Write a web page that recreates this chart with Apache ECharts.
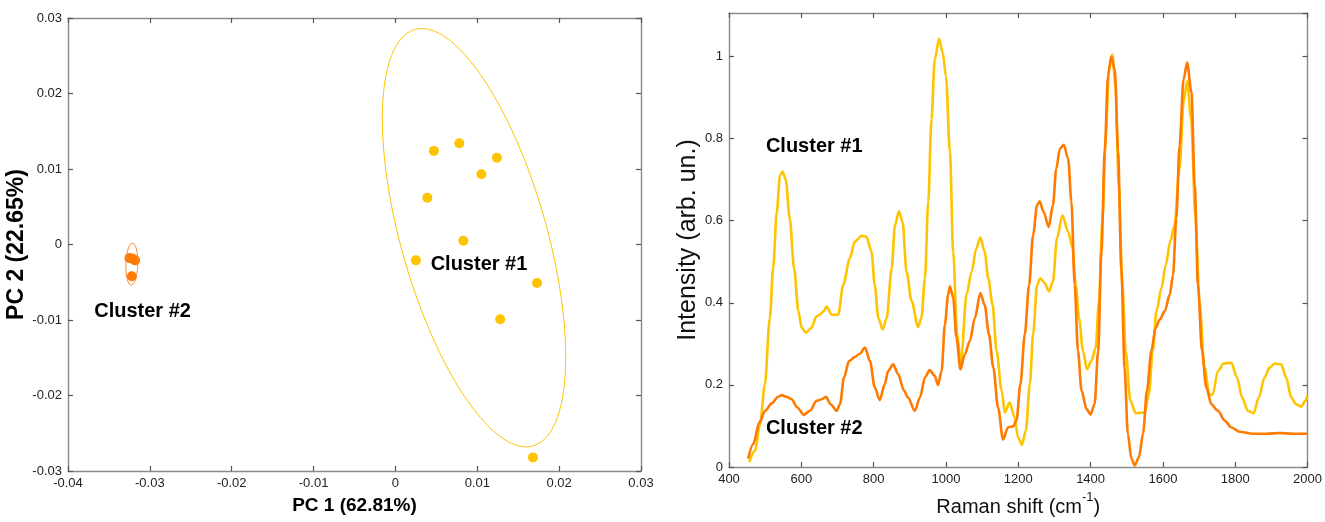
<!DOCTYPE html>
<html>
<head>
<meta charset="utf-8">
<script src="https://cdn.jsdelivr.net/npm/echarts@6/dist/echarts.min.js"></script>
<style>
  html, body { margin: 0; padding: 0; background: #fff; }
  #chart { width: 1325px; height: 522px; }
</style>
</head>
<body>
<div id="chart"></div>
<script>
// PCA scores (PC1, PC2)
const pcaCluster1 = [[0.0047, 0.0124], [0.0078, 0.0134], [0.0124, 0.0115], [0.0105, 0.0093], [0.0039, 0.0062],
  [0.0083, 0.0005], [0.0025, -0.0021], [0.0173, -0.0051], [0.0128, -0.0099], [0.0168, -0.0282]];
const pcaCluster2 = [[-0.0325, -0.0018], [-0.0321, -0.0019], [-0.0318, -0.0021], [-0.0322, -0.0042]];
// confidence ellipses: centre, spread along each PC, correlation
const ellipse1 = { cx: 0.0096, cy: 0.0009, sx: 0.0112, sy: 0.0277, rho: -0.569 };
const ellipse2 = { cx: -0.0322, cy: -0.0026, sx: 0.00073, sy: 0.0028, rho: 0.1 };
const pcaLabels = [['Cluster #1', 0.0043, -0.0027], ['Cluster #2', -0.0368, -0.0089]];

// mean Raman spectra
const spectrum1 = [[456,0.012],[472,0.040],[486,0.105],[499,0.20],[513,0.363],[522,0.484],[532,0.62],[541,0.71],[548,0.72],[557,0.70],[568,0.605],[580,0.484],[592,0.379],[601,0.339],[613,0.327],[628,0.339],[642,0.367],[651,0.371],[661,0.379],[670,0.391],[684,0.371],[702,0.371],[716,0.444],[734,0.508],[748,0.549],[767,0.563],[780,0.561],[794,0.525],[803,0.444],[813,0.363],[825,0.335],[836,0.363],[850,0.484],[859,0.589],[870,0.623],[880,0.597],[891,0.476],[905,0.404],[923,0.341],[932,0.363],[942,0.46],[951,0.646],[960,0.847],[969,0.993],[981,1.043],[991,1.009],[1000,0.952],[1011,0.767],[1020,0.525],[1031,0.323],[1041,0.252],[1057,0.42],[1071,0.476],[1084,0.533],[1095,0.559],[1107,0.525],[1117,0.46],[1129,0.395],[1140,0.283],[1154,0.186],[1163,0.133],[1176,0.157],[1190,0.121],[1199,0.073],[1210,0.054],[1221,0.089],[1232,0.202],[1241,0.323],[1252,0.444],[1261,0.46],[1273,0.448],[1285,0.428],[1296,0.452],[1307,0.557],[1322,0.613],[1338,0.573],[1350,0.533],[1359,0.444],[1368,0.363],[1379,0.283],[1390,0.238],[1402,0.258],[1414,0.29],[1423,0.404],[1433,0.605],[1442,0.807],[1451,0.969],[1460,1.005],[1469,0.928],[1478,0.686],[1488,0.444],[1497,0.283],[1510,0.161],[1525,0.131],[1550,0.133],[1561,0.177],[1572,0.283],[1582,0.379],[1596,0.436],[1608,0.492],[1620,0.549],[1632,0.589],[1646,0.726],[1657,0.888],[1667,0.94],[1678,0.847],[1690,0.605],[1701,0.404],[1715,0.242],[1729,0.174],[1738,0.177],[1752,0.234],[1768,0.252],[1789,0.254],[1805,0.218],[1819,0.169],[1835,0.137],[1851,0.131],[1865,0.169],[1881,0.218],[1895,0.242],[1909,0.252],[1927,0.25],[1941,0.218],[1955,0.169],[1968,0.153],[1982,0.147],[1994,0.161],[2000,0.174]];
const spectrum2 = [[453,0.020],[467,0.056],[484,0.109],[500,0.137],[518,0.155],[536,0.171],[546,0.175],[559,0.171],[573,0.165],[589,0.145],[607,0.127],[624,0.137],[642,0.161],[656,0.165],[668,0.171],[681,0.153],[698,0.137],[707,0.153],[718,0.218],[732,0.258],[748,0.268],[762,0.276],[776,0.291],[790,0.258],[803,0.194],[817,0.163],[831,0.202],[840,0.234],[854,0.25],[868,0.226],[884,0.186],[895,0.169],[914,0.137],[928,0.169],[942,0.218],[955,0.236],[969,0.222],[978,0.2],[988,0.234],[997,0.347],[1006,0.42],[1011,0.44],[1020,0.412],[1029,0.315],[1040,0.238],[1052,0.274],[1066,0.307],[1080,0.363],[1095,0.424],[1107,0.395],[1119,0.323],[1131,0.242],[1144,0.145],[1158,0.067],[1172,0.097],[1186,0.099],[1195,0.113],[1206,0.202],[1218,0.323],[1230,0.444],[1241,0.565],[1252,0.638],[1259,0.647],[1270,0.622],[1284,0.585],[1296,0.638],[1305,0.726],[1315,0.775],[1326,0.785],[1338,0.751],[1347,0.646],[1356,0.444],[1365,0.283],[1375,0.186],[1389,0.141],[1400,0.128],[1411,0.153],[1421,0.283],[1430,0.525],[1439,0.767],[1448,0.952],[1457,1.0],[1467,0.969],[1476,0.767],[1485,0.484],[1494,0.242],[1503,0.081],[1513,0.02],[1522,0.004],[1534,0.024],[1545,0.081],[1556,0.186],[1568,0.283],[1580,0.339],[1591,0.359],[1605,0.379],[1619,0.42],[1628,0.468],[1637,0.605],[1646,0.783],[1657,0.944],[1667,0.985],[1679,0.912],[1688,0.686],[1697,0.444],[1708,0.283],[1720,0.194],[1734,0.153],[1752,0.137],[1771,0.113],[1789,0.097],[1812,0.086],[1849,0.081],[1886,0.081],[1923,0.083],[1959,0.081],[2000,0.081]];
const spectrumLabels = [['Cluster #1', 502, 0.782], ['Cluster #2', 502, 0.094]];

const FONT = "'Liberation Sans', Helvetica, Arial, sans-serif";
const YELLOW = '#ffc400';
const ORANGE = '#ff7a00';

function ellipsePoints(e) {
  const pts = [];
  for (let i = 0; i <= 180; i++) {
    const t = i / 180 * Math.PI * 2;
    const c = Math.cos(t), s = Math.sin(t);
    pts.push([e.cx + e.sx * c, e.cy + e.sy * (e.rho * c + Math.sqrt(1 - e.rho * e.rho) * s)]);
  }
  return pts;
}

function fmt(v) {
  const r = +v.toFixed(3);
  return r === 0 ? '0' : String(r);
}

// main axis + mirrored axis (MATLAB box look)
function axisPair(kind, grid, min, max, interval, extra) {
  const line = { show: true, onZero: false, lineStyle: { color: '#8a8a8a', width: 1.4 } };
  const tick = { show: true, inside: true, length: 5, lineStyle: { color: '#555', width: 1.2 } };
  const main = Object.assign({
    type: 'value', gridIndex: grid, min: min, max: max, interval: interval,
    axisLine: line, axisTick: tick, splitLine: { show: false },
    axisLabel: { color: '#222', fontSize: 13, fontFamily: FONT, margin: 6, formatter: fmt }
  }, extra);
  const mirror = {
    type: 'value', gridIndex: grid, min: min, max: max, interval: interval,
    position: kind === 'x' ? 'top' : 'right',
    axisLine: line, axisTick: tick, splitLine: { show: false }, axisLabel: { show: false }
  };
  return [main, mirror];
}

const chart = echarts.init(document.getElementById('chart'));

const [x0, x1] = axisPair('x', 0, -0.04, 0.03, 0.01, {
  name: 'PC 1 (62.81%)', nameLocation: 'middle', nameGap: 25,
  nameTextStyle: { fontSize: 19, fontWeight: 'bold', color: '#000', fontFamily: FONT }
});
const [y0, y1] = axisPair('y', 0, -0.03, 0.03, 0.01, {
  name: 'PC 2 (22.65%)', nameLocation: 'middle', nameGap: 40,
  nameTextStyle: { fontSize: 23, fontWeight: 'bold', color: '#000', fontFamily: FONT }
});
const [x2, x3] = axisPair('x', 1, 400, 2000, 200, {
  name: '{n|Raman shift (cm}{s|-1}{n|)}', nameLocation: 'middle', nameGap: 24,
  nameTextStyle: {
    color: '#111', fontFamily: FONT,
    rich: {
      n: { fontSize: 20, color: '#111', fontFamily: FONT, lineHeight: 26, verticalAlign: 'bottom' },
      s: { fontSize: 13, color: '#111', fontFamily: FONT, lineHeight: 26, verticalAlign: 'top' }
    }
  }
});
const [y2, y3] = axisPair('y', 1, 0, 1.106, 0.2, {
  name: 'Intensity (arb. un.)', nameLocation: 'middle', nameGap: 27,
  nameTextStyle: { fontSize: 25, color: '#111', fontFamily: FONT }
});
y2.axisLabel.showMaxLabel = false;

function textSeries(items, xi, yi) {
  return {
    type: 'scatter', xAxisIndex: xi, yAxisIndex: yi, symbolSize: 0, silent: true, z: 5,
    itemStyle: { color: '#000', opacity: 1 },
    data: items.map(d => ({ name: d[0], value: [d[1], d[2]] })),
    label: {
      show: true, position: [0, 0], align: 'left', verticalAlign: 'middle',
      formatter: '{b}', fontSize: 20, fontWeight: 'bold', color: '#000', fontFamily: FONT,
      textBorderWidth: 0, textBorderColor: 'transparent'
    }
  };
}

chart.setOption({
  animation: false,
  backgroundColor: '#fff',
  grid: [
    { left: 68, top: 18, width: 573, height: 453 },
    { left: 729, top: 13, width: 579, height: 457 }
  ],
  xAxis: [x0, x1, x2, x3],
  yAxis: [y0, y1, y2, y3],
  series: [
    {
      type: 'line', xAxisIndex: 0, yAxisIndex: 0, data: ellipsePoints(ellipse1),
      showSymbol: false, silent: true, lineStyle: { color: YELLOW, width: 1 }
    },
    {
      type: 'line', xAxisIndex: 0, yAxisIndex: 0, data: ellipsePoints(ellipse2),
      showSymbol: false, silent: true, lineStyle: { color: '#ff8a2a', width: 1 }
    },
    {
      type: 'scatter', xAxisIndex: 0, yAxisIndex: 0, data: pcaCluster1,
      symbolSize: 10, itemStyle: { color: YELLOW, opacity: 1 }
    },
    {
      type: 'scatter', xAxisIndex: 0, yAxisIndex: 0, data: pcaCluster2,
      symbolSize: 10, itemStyle: { color: ORANGE, opacity: 1 }
    },
    textSeries(pcaLabels, 0, 0),
    {
      type: 'line', xAxisIndex: 2, yAxisIndex: 2, data: spectrum1,
      showSymbol: false, smooth: 0.3, smoothMonotone: 'x',
      lineStyle: { color: YELLOW, width: 2.6 }
    },
    {
      type: 'line', xAxisIndex: 2, yAxisIndex: 2, data: spectrum2,
      showSymbol: false, smooth: 0.3, smoothMonotone: 'x',
      lineStyle: { color: ORANGE, width: 2.6 }
    },
    textSeries(spectrumLabels, 2, 2)
  ]
});
</script>
</body>
</html>
